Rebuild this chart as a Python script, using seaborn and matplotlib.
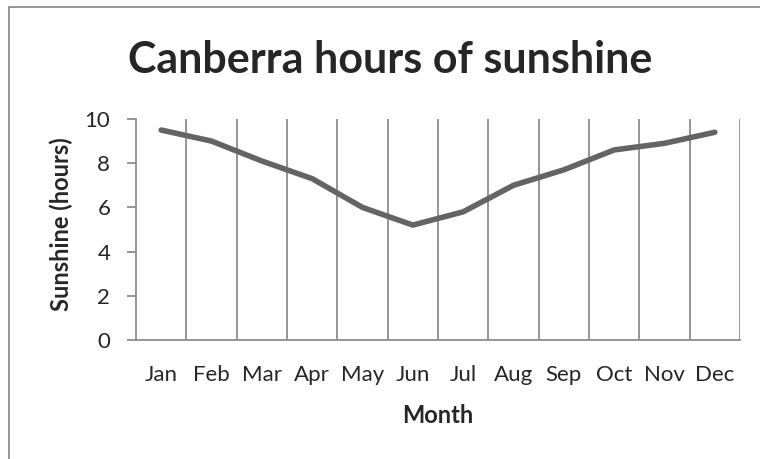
import matplotlib
matplotlib.use("Agg")
import matplotlib.pyplot as plt
import seaborn as sns
import pandas as pd
import numpy as np

months = ["Jan", "Feb", "Mar", "Apr", "May", "Jun",
          "Jul", "Aug", "Sep", "Oct", "Nov", "Dec"]
sunshine = [9.5, 9.0, 8.1, 7.3, 6.0, 5.2, 5.8, 7.0, 7.7, 8.6, 8.9, 9.4]
y_ticks = [0, 2, 4, 6, 8, 10]

df = pd.DataFrame({"Month": months, "Sunshine": sunshine})

sns.set_style("white")
plt.rcParams['font.family'] = ['Lato', 'DejaVu Sans']

W, H = 760, 459
fig = plt.figure(figsize=(W / 100, H / 100), dpi=100)
# plot area in pixels: x 136..740, y 119..340
ax = fig.add_axes([136 / W, 1 - 340 / H, 604 / W, 221 / H])

sns.lineplot(data=df, x="Month", y="Sunshine", ax=ax, color="#646464",
             linewidth=4, sort=False)

# category boundaries -> vertical gridlines and ticks
bounds = np.arange(len(months) + 1) - 0.5
ax.set_xlim(bounds[0], bounds[-1])
ax.set_xticks(range(len(months)))
ax.set_xticklabels(months, fontsize=16)
ax.set_xticks(bounds, minor=True)
ax.tick_params(axis="x", which="major", length=0, pad=18)
ax.tick_params(axis="x", which="minor", length=6, color="#8c8c8c", width=1.3)
for b in bounds[1:]:
    ax.axvline(b, color="#8c8c8c", linewidth=1.3, zorder=0)

ax.set_ylim(0, 10)
ax.set_yticks(y_ticks)
ax.set_yticklabels([str(v) for v in y_ticks], fontsize=16)
ax.tick_params(axis="y", length=6.5, color="#8c8c8c", width=1.3, left=True, pad=12)

for s in ["top", "right"]:
    ax.spines[s].set_visible(False)
for s in ["left", "bottom"]:
    ax.spines[s].set_color("#8c8c8c")
    ax.spines[s].set_linewidth(1.3)

ax.set_xlabel("Month", fontsize=17, fontweight="bold")
ax.xaxis.set_label_coords(0.5, -0.29)
ax.set_ylabel("Sunshine (hours)", fontsize=17, fontweight="bold")
ax.yaxis.set_label_coords(-0.104, 0.525)

fig.text(390 / W, 1 - 73 / H, "Canberra hours of sunshine", fontsize=31,
         fontweight="bold", ha="center", va="baseline")

# chart area border (only top and left edges fall inside the image)
border = plt.Rectangle((9 / W, -0.05), 1.0, 1 - 7 / H + 0.05,
                       transform=fig.transFigure, fill=False,
                       edgecolor="#8c8c8c", linewidth=1.3)
fig.patches.append(border)

fig.savefig("out.png", dpi=100)
